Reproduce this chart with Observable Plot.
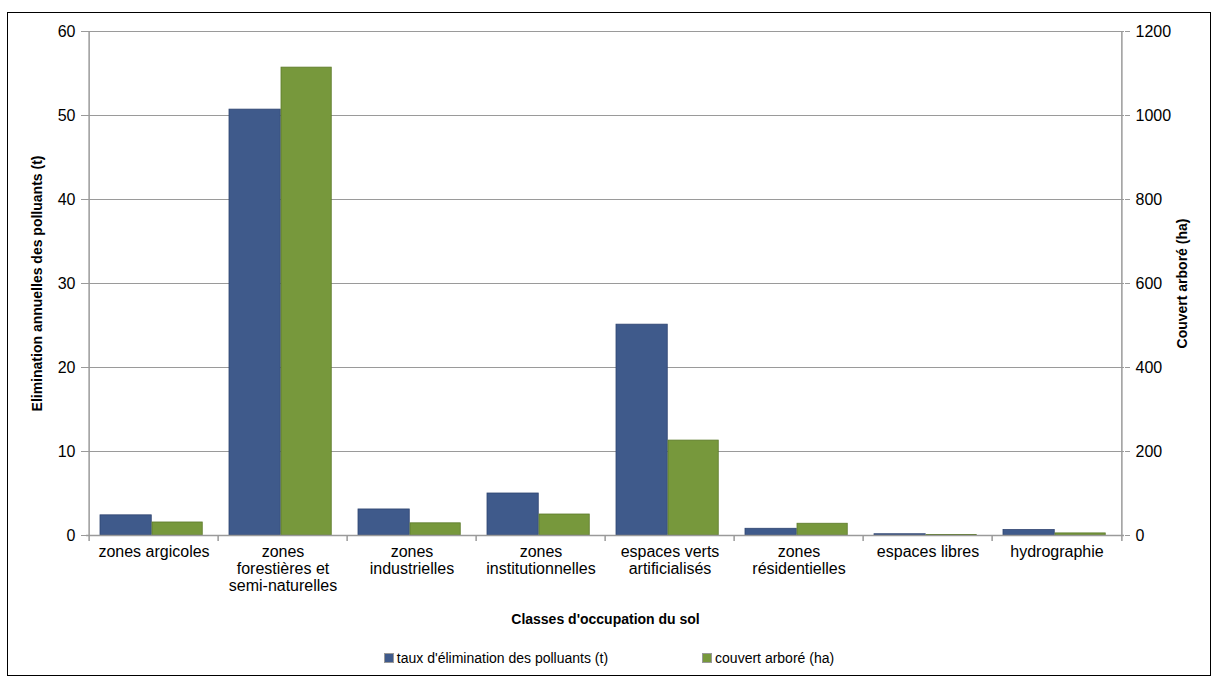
<!DOCTYPE html>
<html>
<head>
<meta charset="utf-8">
<script src="https://cdn.jsdelivr.net/npm/d3@7"></script>
<script src="https://cdn.jsdelivr.net/npm/@observablehq/plot@0.6"></script>
<style>
  html, body { margin: 0; padding: 0; background: #fff; }
  body { width: 1218px; height: 679px; position: relative; overflow: hidden; font-family: "Liberation Sans", Arial, sans-serif; }
  #frame { position: absolute; left: 7px; top: 12px; width: 1204px; height: 664px; border: 1.5px solid #000; box-sizing: border-box; }
  #chart { position: absolute; left: 0; top: 0; }
  #chart svg g[aria-label="y-axis label"] text,
  #chart svg g[aria-label="x-axis label"] text { font-weight: bold; }
  #legend { position: absolute; top: 650px; left: 0; width: 1218px; display: flex; justify-content: center; gap: 94px; font-size: 14px; color: #000; }
  #legend span { display: inline-flex; align-items: center; }
  #legend i { display: inline-block; width: 8px; height: 8px; margin-right: 3px; border: 1px solid #999; }
</style>
</head>
<body>
<div id="frame"></div>
<div id="chart"></div>
<div id="legend"></div>
<script>
const categories = [
  "zones argicoles",
  "zones forestières et semi-naturelles",
  "zones industrielles",
  "zones institutionnelles",
  "espaces verts artificialisés",
  "zones résidentielles",
  "espaces libres",
  "hydrographie"
];
const tickLabels = [
  "zones argicoles",
  "zones\nforestières et\nsemi-naturelles",
  "zones\nindustrielles",
  "zones\ninstitutionnelles",
  "espaces verts\nartificialisés",
  "zones\nrésidentielles",
  "espaces libres",
  "hydrographie"
];
const eliminationT = [2.4, 50.7, 3.1, 5.0, 25.1, 0.8, 0.15, 0.65];
const couvertHa = [31, 1114, 29, 50, 226, 28, 1, 5];
const leftTicks = [0, 10, 20, 30, 40, 50, 60];
const seriesNames = ["taux d'élimination des polluants (t)", "couvert arboré (ha)"];
const colors = ["#3f5a8b", "#77983c"];
const haPerT = 20; // right axis 0..1200 maps onto left axis 0..60

const data = categories.map((c, i) => ({cat: c, t: eliminationT[i], ha: couvertHa[i]}));
const labelOf = new Map(categories.map((c, i) => [c, tickLabels[i]]));

const W = 1218, H = 640;
const mL = 86, mR = 94, mT = 31, mB = 105;
const band = (W - mL - mR) / categories.length;

const chart = Plot.plot({
  width: W,
  height: H,
  marginLeft: mL,
  marginRight: mR,
  marginTop: mT,
  marginBottom: mB,
  style: {fontFamily: "'Liberation Sans', Arial, sans-serif", fontSize: "16px", color: "#000", background: "transparent"},
  x: {type: "band", domain: categories, padding: 0},
  y: {domain: [0, 60]},
  marks: [
    Plot.gridY(leftTicks.filter(d => d > 0), {stroke: "#9a9a9a", strokeOpacity: 1, strokeWidth: 1.2}),
    Plot.barY(data, {x: "cat", y: "t", fill: colors[0], stroke: "#2e4470", strokeWidth: 0.8, insetLeft: 11, insetRight: band - 63}),
    Plot.barY(data, {x: "cat", y: d => d.ha / haPerT, fill: colors[1], stroke: "#5c7a2a", strokeWidth: 0.8, insetLeft: 63, insetRight: band - 114}),
    Plot.ruleY([0], {stroke: "#9a9a9a", strokeWidth: 1.5}),
    Plot.ruleX([0], {x: () => categories[0], dx: -band / 2, y1: 0, y2: 60, stroke: "#9a9a9a", strokeWidth: 1.5}),
    Plot.ruleX([0], {x: () => categories[categories.length - 1], dx: band / 2, y1: 0, y2: 60, stroke: "#9a9a9a", strokeWidth: 1.5}),
    Plot.ruleX(categories, {x: d => d, dx: -band / 2, y1: 0, y2: -0.7, stroke: "#9a9a9a", strokeWidth: 1.5}),
    Plot.ruleX([categories[categories.length - 1]], {x: d => d, dx: band / 2, y1: 0, y2: -0.7, stroke: "#9a9a9a", strokeWidth: 1.5}),
    Plot.axisY({
      anchor: "left", ticks: leftTicks, tickSize: 5, tickPadding: 6, stroke: "#9a9a9a",
      label: "Elimination annuelles des polluants (t)", labelAnchor: "center", labelArrow: "none", labelOffset: 54,
      fontSize: 16
    }),
    Plot.axisY({
      anchor: "right", ticks: leftTicks, tickSize: 5, tickPadding: 6, stroke: "#9a9a9a",
      tickFormat: d => String(d * haPerT),
      label: "Couvert arboré (ha)", labelAnchor: "center", labelArrow: "none", labelOffset: 62,
      fontSize: 16
    }),
    Plot.axisX({
      tickSize: 0, tickPadding: 10, tickFormat: d => labelOf.get(d), lineHeight: 1.05,
      label: "Classes d'occupation du sol", labelAnchor: "center", labelArrow: "none", labelOffset: 88,
      fontSize: 16
    })
  ]
});
document.getElementById("chart").appendChild(chart);

// axis title font sizes
chart.querySelectorAll('g[aria-label="y-axis label"] text, g[aria-label="x-axis label"] text').forEach(t => t.setAttribute("font-size", "14"));

const legend = document.getElementById("legend");
seriesNames.forEach((name, i) => {
  const s = document.createElement("span");
  const sw = document.createElement("i");
  sw.style.background = colors[i];
  s.appendChild(sw);
  s.appendChild(document.createTextNode(name));
  legend.appendChild(s);
});
</script>
</body>
</html>
